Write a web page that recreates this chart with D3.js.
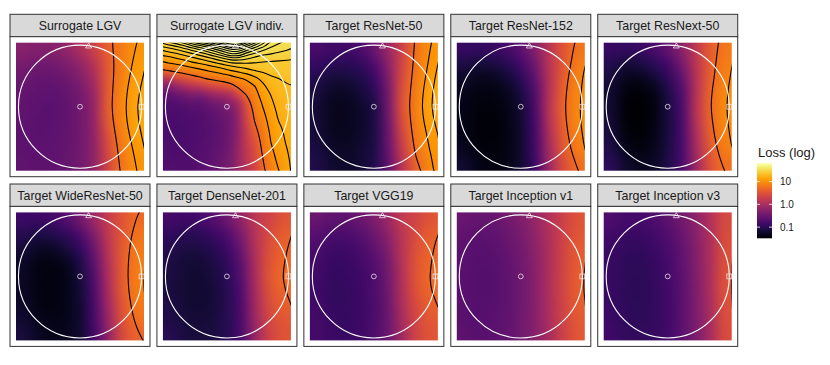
<!DOCTYPE html>
<html><head><meta charset="utf-8">
<script src="https://cdn.jsdelivr.net/npm/d3@7"></script>
<style>
body{margin:0;background:#fff}
svg{display:block}
text{font-family:"Liberation Sans",Arial,Helvetica,sans-serif}
</style>
</head><body>
<svg id="chart" width="830" height="365"></svg>
<script>
// ---------------- DATA ----------------
const panelTitles = ["Surrogate LGV","Surrogate LGV indiv.","Target ResNet-50","Target ResNet-152","Target ResNext-50",
  "Target WideResNet-50","Target DenseNet-201","Target VGG19","Target Inception v1","Target Inception v3"];

// log10(loss), rows top -> bottom, columns left -> right
const gridSurrogateLGV = [
  [-0.28,-0.32,-0.30,-0.20, 0.02, 0.30, 0.62, 0.86, 1.02],
  [-0.40,-0.45,-0.44,-0.36,-0.18, 0.12, 0.58, 0.88, 1.06],
  [-0.50,-0.55,-0.55,-0.48,-0.32, 0.00, 0.58, 0.91, 1.10],
  [-0.56,-0.60,-0.61,-0.56,-0.42,-0.10, 0.60, 0.94, 1.14],
  [-0.58,-0.62,-0.63,-0.58,-0.46,-0.15, 0.62, 0.95, 1.17],
  [-0.60,-0.63,-0.63,-0.58,-0.46,-0.16, 0.58, 0.94, 1.15],
  [-0.61,-0.63,-0.62,-0.57,-0.46,-0.18, 0.50, 0.90, 1.11],
  [-0.61,-0.62,-0.61,-0.56,-0.45,-0.20, 0.42, 0.85, 1.06],
  [-0.60,-0.61,-0.60,-0.55,-0.44,-0.20, 0.38, 0.80, 1.02]];
const gridSurrogateIndiv = [
  [ 1.42, 1.46, 1.51, 1.57, 1.62, 1.66, 1.71, 1.75, 1.80, 1.80, 1.73, 1.67, 1.61, 1.55, 1.52, 1.50],
  [ 1.22, 1.26, 1.31, 1.36, 1.41, 1.46, 1.52, 1.58, 1.64, 1.63, 1.56, 1.51, 1.48, 1.47, 1.46, 1.45],
  [ 1.00, 1.05, 1.10, 1.15, 1.20, 1.25, 1.30, 1.35, 1.40, 1.41, 1.41, 1.40, 1.39, 1.385,1.38, 1.375],
  [ 0.69, 0.75, 0.82, 0.88, 0.94, 1.00, 1.05, 1.11, 1.17, 1.22, 1.26, 1.30, 1.32, 1.34, 1.35, 1.36],
  [ 0.15, 0.30, 0.45, 0.55, 0.62, 0.71, 0.78, 0.84, 0.89, 0.97, 1.03, 1.13, 1.22, 1.28, 1.30, 1.32],
  [-0.30,-0.20,-0.05, 0.10, 0.15, 0.28, 0.38, 0.45, 0.55, 0.77, 0.87, 0.99, 1.14, 1.23, 1.28, 1.29],
  [-0.58,-0.52,-0.45,-0.35,-0.35,-0.22,-0.10,-0.05, 0.10, 0.40, 0.73, 0.92, 1.09, 1.18, 1.25, 1.28],
  [-0.70,-0.68,-0.64,-0.58,-0.60,-0.52,-0.42,-0.35,-0.22, 0.05, 0.55, 0.86, 1.03, 1.15, 1.23, 1.26],
  [-0.74,-0.74,-0.72,-0.68,-0.68,-0.62,-0.55,-0.48,-0.38,-0.08, 0.45, 0.80, 0.98, 1.12, 1.21, 1.24],
  [-0.75,-0.76,-0.74,-0.72,-0.70,-0.66,-0.60,-0.53,-0.42,-0.12, 0.38, 0.74, 0.93, 1.09, 1.19, 1.23],
  [-0.76,-0.77,-0.76,-0.74,-0.71,-0.67,-0.62,-0.55,-0.43,-0.13, 0.32, 0.66, 0.88, 1.06, 1.16, 1.21],
  [-0.75,-0.77,-0.76,-0.74,-0.71,-0.67,-0.62,-0.55,-0.43,-0.13, 0.28, 0.58, 0.83, 1.03, 1.14, 1.20],
  [-0.74,-0.76,-0.75,-0.74,-0.70,-0.66,-0.61,-0.54,-0.42,-0.12, 0.24, 0.50, 0.79, 1.00, 1.12, 1.19],
  [-0.73,-0.75,-0.74,-0.73,-0.69,-0.65,-0.60,-0.52,-0.40,-0.11, 0.20, 0.45, 0.75, 0.96, 1.09, 1.17],
  [-0.72,-0.73,-0.73,-0.72,-0.68,-0.63,-0.58,-0.50,-0.38,-0.10, 0.18, 0.42, 0.70, 0.92, 1.06, 1.15],
  [-0.70,-0.71,-0.72,-0.70,-0.66,-0.61,-0.56,-0.48,-0.36,-0.08, 0.14, 0.38, 0.66, 0.88, 1.02, 1.13]];
const gridResNet50 = [
  [-0.78,-0.84,-0.84,-0.76,-0.52,-0.12, 0.32, 0.78, 1.01],
  [-0.92,-1.00,-1.00,-0.94,-0.72,-0.25, 0.38, 0.80, 1.05],
  [-1.05,-1.15,-1.15,-1.08,-0.88,-0.35, 0.42, 0.84, 1.10],
  [-1.14,-1.25,-1.26,-1.18,-1.00,-0.42, 0.47, 0.88, 1.14],
  [-1.18,-1.30,-1.32,-1.24,-1.08,-0.45, 0.50, 0.90, 1.16],
  [-1.18,-1.30,-1.32,-1.25,-1.10,-0.48, 0.45, 0.88, 1.12],
  [-1.16,-1.28,-1.30,-1.24,-1.10,-0.52, 0.36, 0.84, 1.06],
  [-1.12,-1.24,-1.27,-1.22,-1.08,-0.55, 0.25, 0.78, 1.02],
  [-1.08,-1.20,-1.24,-1.20,-1.06,-0.58, 0.15, 0.66, 0.96]];
const gridResNet152 = [
  [-0.92,-0.95,-0.92,-0.82,-0.62,-0.30, 0.15, 0.52, 0.78],
  [-1.10,-1.15,-1.12,-1.02,-0.82,-0.45, 0.12, 0.55, 0.84],
  [-1.25,-1.30,-1.30,-1.20,-1.00,-0.60, 0.10, 0.60, 0.90],
  [-1.32,-1.38,-1.38,-1.30,-1.12,-0.70, 0.10, 0.64, 0.93],
  [-1.35,-1.42,-1.42,-1.35,-1.18,-0.75, 0.12, 0.66, 0.95],
  [-1.36,-1.43,-1.44,-1.38,-1.20,-0.78, 0.08, 0.64, 0.94],
  [-1.35,-1.43,-1.44,-1.38,-1.22,-0.80, 0.02, 0.60, 0.90],
  [-1.30,-1.40,-1.42,-1.38,-1.22,-0.82,-0.04, 0.54, 0.85],
  [-1.22,-1.35,-1.40,-1.36,-1.22,-0.84,-0.10, 0.44, 0.74]];
const gridResNext50 = [
  [-0.90,-0.95,-0.90,-0.78,-0.58,-0.25, 0.20, 0.58, 0.82],
  [-1.05,-1.15,-1.12,-1.00,-0.80,-0.42, 0.15, 0.60, 0.86],
  [-1.15,-1.30,-1.32,-1.20,-0.98,-0.58, 0.10, 0.63, 0.90],
  [-1.20,-1.40,-1.45,-1.35,-1.10,-0.70, 0.10, 0.67, 0.94],
  [-1.20,-1.43,-1.49,-1.38,-1.12,-0.75, 0.12, 0.69, 0.96],
  [-1.18,-1.42,-1.48,-1.38,-1.14,-0.76, 0.08, 0.66, 0.94],
  [-1.14,-1.38,-1.44,-1.36,-1.14,-0.76, 0.02, 0.62, 0.90],
  [-1.08,-1.30,-1.38,-1.32,-1.12,-0.76,-0.04, 0.56, 0.85],
  [-1.00,-1.22,-1.30,-1.26,-1.08,-0.76,-0.10, 0.50, 0.75]];
const gridWideResNet50 = [
  [-0.85,-0.88,-0.82,-0.70,-0.45,-0.10, 0.25, 0.52, 0.71],
  [-1.02,-1.08,-1.05,-0.95,-0.72,-0.32, 0.20, 0.55, 0.78],
  [-1.15,-1.25,-1.25,-1.15,-0.92,-0.48, 0.15, 0.58, 0.82],
  [-1.25,-1.35,-1.37,-1.30,-1.08,-0.60, 0.10, 0.60, 0.85],
  [-1.28,-1.38,-1.40,-1.35,-1.15,-0.68, 0.05, 0.60, 0.87],
  [-1.28,-1.38,-1.40,-1.36,-1.18,-0.72, 0.00, 0.58, 0.86],
  [-1.25,-1.36,-1.39,-1.36,-1.20,-0.76,-0.06, 0.54, 0.82],
  [-1.20,-1.32,-1.36,-1.34,-1.20,-0.78,-0.12, 0.48, 0.76],
  [-1.15,-1.28,-1.33,-1.32,-1.20,-0.80,-0.18, 0.42, 0.66]];
const gridDenseNet201 = [
  [-0.82,-0.85,-0.80,-0.68,-0.48,-0.18, 0.18, 0.35, 0.51],
  [-0.95,-1.00,-0.98,-0.88,-0.70,-0.36, 0.12, 0.42, 0.60],
  [-1.05,-1.10,-1.10,-1.02,-0.85,-0.50, 0.08, 0.47, 0.65],
  [-1.10,-1.16,-1.17,-1.10,-0.94,-0.60, 0.05, 0.51, 0.69],
  [-1.12,-1.18,-1.20,-1.14,-1.00,-0.66, 0.02, 0.53, 0.71],
  [-1.12,-1.19,-1.21,-1.16,-1.02,-0.70,-0.02, 0.50, 0.68],
  [-1.10,-1.18,-1.20,-1.16,-1.03,-0.72,-0.06, 0.44, 0.61],
  [-1.08,-1.15,-1.18,-1.15,-1.03,-0.74,-0.10, 0.38, 0.55],
  [-1.04,-1.12,-1.15,-1.13,-1.02,-0.75,-0.14, 0.34, 0.51]];
const gridVGG19 = [
  [-0.52,-0.60,-0.60,-0.52,-0.36,-0.10, 0.22, 0.36, 0.52],
  [-0.66,-0.74,-0.74,-0.66,-0.50,-0.22, 0.18, 0.43, 0.61],
  [-0.76,-0.84,-0.84,-0.76,-0.60,-0.32, 0.15, 0.48, 0.66],
  [-0.82,-0.90,-0.90,-0.82,-0.68,-0.40, 0.12, 0.52, 0.69],
  [-0.84,-0.92,-0.92,-0.86,-0.72,-0.44, 0.10, 0.53, 0.71],
  [-0.85,-0.93,-0.93,-0.87,-0.74,-0.47, 0.07, 0.51, 0.69],
  [-0.84,-0.92,-0.93,-0.88,-0.75,-0.49, 0.04, 0.45, 0.62],
  [-0.82,-0.90,-0.92,-0.88,-0.75,-0.50, 0.00, 0.39, 0.56],
  [-0.80,-0.88,-0.90,-0.86,-0.74,-0.50,-0.04, 0.35, 0.52]];
const gridInceptionV1 = [
  [-0.52,-0.56,-0.54,-0.46,-0.34,-0.16, 0.08, 0.32, 0.50],
  [-0.58,-0.62,-0.60,-0.52,-0.40,-0.20, 0.06, 0.33, 0.53],
  [-0.62,-0.66,-0.64,-0.56,-0.44,-0.24, 0.05, 0.35, 0.56],
  [-0.64,-0.68,-0.66,-0.58,-0.46,-0.26, 0.04, 0.36, 0.58],
  [-0.65,-0.69,-0.67,-0.60,-0.48,-0.27, 0.04, 0.37, 0.60],
  [-0.65,-0.69,-0.67,-0.60,-0.48,-0.27, 0.04, 0.37, 0.60],
  [-0.64,-0.68,-0.66,-0.60,-0.48,-0.27, 0.03, 0.36, 0.58],
  [-0.63,-0.67,-0.65,-0.59,-0.47,-0.27, 0.02, 0.34, 0.56],
  [-0.62,-0.66,-0.64,-0.58,-0.47,-0.27, 0.00, 0.32, 0.54]];
const gridInceptionV3 = [
  [-0.74,-0.80,-0.80,-0.74,-0.62,-0.46,-0.22, 0.08, 0.40],
  [-0.82,-0.88,-0.88,-0.82,-0.70,-0.52,-0.26, 0.06, 0.42],
  [-0.88,-0.94,-0.94,-0.88,-0.76,-0.57,-0.30, 0.05, 0.45],
  [-0.90,-0.97,-0.98,-0.92,-0.80,-0.60,-0.32, 0.04, 0.47],
  [-0.91,-0.98,-0.99,-0.94,-0.82,-0.62,-0.33, 0.04, 0.48],
  [-0.91,-0.98,-1.00,-0.95,-0.83,-0.63,-0.34, 0.03, 0.48],
  [-0.90,-0.97,-0.99,-0.95,-0.84,-0.64,-0.35, 0.02, 0.46],
  [-0.88,-0.96,-0.98,-0.94,-0.84,-0.64,-0.36, 0.00, 0.44],
  [-0.86,-0.94,-0.96,-0.93,-0.83,-0.64,-0.37,-0.02, 0.42]];

const panelGrids = [gridSurrogateLGV, gridSurrogateIndiv, gridResNet50, gridResNet152, gridResNext50,
  gridWideResNet50, gridDenseNet201, gridVGG19, gridInceptionV1, gridInceptionV3];

// contour levels (loss, linear)
const contourLevels = [5,10,15,20,25,30,35,40,45,50,55,60,65,70];
// reference points in the plane (circle radius = 1)
const markerPoints = [
  {shape:"circle",   x:0.00, y:0.00},
  {shape:"triangle", x:0.14, y:0.99},
  {shape:"square",   x:1.00, y:0.00}];
const planeExtent = [-1.04, 1.04];
const legendTicks = [0.1, 1, 10];
const legendLabels = ["0.1","1.0","10"];
const legendTitle = "Loss (log)";

// ---------------- DRAWING ----------------
const svg = d3.select("#chart");
const defs = svg.append("defs");
const allVals = panelGrids.flat(2);
const logExtent = d3.extent(allVals);
const color = d3.scaleSequential(d3.interpolateInferno).domain(logExtent);

const panelX0 = 10, panelDX = 146.93, panelW = 140;
const rowTop = [14.3, 184];
const stripH = 22.4, bodyH = 140, inset = 6;

function rasterURL(grid){
  const n = grid.length, m = grid[0].length;
  const c = document.createElement("canvas"); c.width = m; c.height = n;
  const ctx = c.getContext("2d");
  const img = ctx.createImageData(m, n);
  grid.forEach((row, j) => row.forEach((v, i) => {
    const col = d3.rgb(color(v)); const k = (j*m + i)*4;
    img.data[k] = col.r; img.data[k+1] = col.g; img.data[k+2] = col.b; img.data[k+3] = 255;
  }));
  ctx.putImageData(img, 0, 0);
  const big = document.createElement("canvas"); big.width = 384; big.height = 384;
  const b = big.getContext("2d");
  b.imageSmoothingEnabled = true; b.imageSmoothingQuality = "high";
  b.drawImage(c, 0, 0, 384, 384);
  return big.toDataURL();
}

// one extra ring of cells (continued outward) so contour rings close outside the clipped raster
function padded(grid){
  const n = grid.length, m = grid[0].length;
  const rows = grid.map(r => [2*r[0] - r[1], ...r, 2*r[m-1] - r[m-2]]);
  const top = rows[0].map((v, i) => 2*v - rows[1][i]);
  const bot = rows[n-1].map((v, i) => 2*v - rows[n-2][i]);
  return [top, ...rows, bot];
}

panelGrids.forEach((grid, p) => {
  const col = p % 5, row = Math.floor(p / 5);
  const px = panelX0 + col*panelDX, py = rowTop[row];
  const g = svg.append("g");
  // strip
  g.append("rect").attr("x", px).attr("y", py).attr("width", panelW).attr("height", stripH)
    .attr("fill", "#d9d9d9").attr("stroke", "#333").attr("stroke-width", 1);
  g.append("text").attr("x", px + panelW/2).attr("y", py + stripH/2 + 0.5)
    .attr("text-anchor", "middle").attr("dominant-baseline", "central")
    .attr("font-size", 12.4).attr("fill", "#1a1a1a").text(panelTitles[p]);
  // body
  const by = py + stripH;
  g.append("rect").attr("x", px).attr("y", by).attr("width", panelW).attr("height", bodyH)
    .attr("fill", "#fff").attr("stroke", "#333").attr("stroke-width", 1);
  const hs = panelW - 2*inset;
  const x = d3.scaleLinear().domain(planeExtent).range([px + inset, px + inset + hs]);
  const y = d3.scaleLinear().domain(planeExtent).range([by + inset + hs, by + inset]);
  const hx0 = x(planeExtent[0]), hy0 = y(planeExtent[1]);
  g.append("image").attr("href", rasterURL(grid))
    .attr("x", hx0).attr("y", hy0)
    .attr("width", hs).attr("height", hs).attr("preserveAspectRatio", "none");
  // contours
  const clipId = "clip" + p;
  defs.append("clipPath").attr("id", clipId).append("rect")
    .attr("x", hx0).attr("y", hy0).attr("width", hs).attr("height", hs);
  const n = grid.length, m = grid[0].length;
  const pg = padded(grid);
  const cs = d3.contours().size([m + 2, n + 2]).thresholds(contourLevels.map(Math.log10))(pg.flat());
  const gx = d3.scaleLinear().domain([1, m + 1]).range([hx0, hx0 + hs]);
  const gy = d3.scaleLinear().domain([1, n + 1]).range([hy0, hy0 + hs]);
  const line = d3.line().x(d => gx(d[0])).y(d => gy(d[1])).curve(d3.curveBasis);
  const rings = [];
  cs.forEach(c => c.coordinates.forEach(poly => poly.forEach(ring => rings.push(ring))));
  g.append("g").attr("clip-path", `url(#${clipId})`)
    .selectAll("path").data(rings).enter().append("path")
    .attr("d", line).attr("fill", "none").attr("stroke", "#000").attr("stroke-width", 1.1)
    .attr("stroke-linejoin", "round");
  // circle
  g.append("circle").attr("cx", x(0)).attr("cy", y(0)).attr("r", x(1) - x(0))
    .attr("fill", "none").attr("stroke", "#fff").attr("stroke-width", 1.1);
  // markers
  const mk = g.append("g").attr("fill", "none").attr("stroke", "#f3e8f3").attr("stroke-opacity", 0.85).attr("stroke-width", 0.9);
  markerPoints.forEach(d => {
    const cx = x(d.x), cy = y(d.y);
    if (d.shape === "circle") mk.append("circle").attr("cx", cx).attr("cy", cy).attr("r", 2.4);
    else if (d.shape === "triangle") mk.append("path").attr("d", `M${cx},${cy-2.8}L${cx+3},${cy+2.2}L${cx-3},${cy+2.2}Z`);
    else mk.append("rect").attr("x", cx - 2.4).attr("y", cy - 2.4).attr("width", 4.8).attr("height", 4.8);
  });
});

// ---------------- LEGEND ----------------
const barX = 757, barW = 15, barTop = 163.3, barH = 75;
const ly = d3.scaleLinear().domain(logExtent).range([barTop + barH, barTop]);
const grad = defs.append("linearGradient").attr("id", "lg").attr("x1", 0).attr("y1", 1).attr("x2", 0).attr("y2", 0);
d3.range(0, 1.0001, 0.05).forEach(t => grad.append("stop").attr("offset", t).attr("stop-color", d3.interpolateInferno(t)));
svg.append("text").attr("x", 758).attr("y", 157.3).attr("font-size", 13).attr("fill", "#1a1a1a").text(legendTitle);
svg.append("rect").attr("x", barX).attr("y", barTop).attr("width", barW).attr("height", barH).attr("fill", "url(#lg)");
legendTicks.forEach((v, i) => {
  const yy = ly(Math.log10(v));
  svg.append("line").attr("x1", barX).attr("x2", barX + 3).attr("y1", yy).attr("y2", yy).attr("stroke", "#fff").attr("stroke-width", 0.8);
  svg.append("line").attr("x1", barX + barW - 3).attr("x2", barX + barW).attr("y1", yy).attr("y2", yy).attr("stroke", "#fff").attr("stroke-width", 0.8);
  svg.append("text").attr("x", 780).attr("y", yy).attr("dominant-baseline", "central")
    .attr("font-size", 10).attr("fill", "#1a1a1a").text(legendLabels[i]);
});
</script>
</body></html>
